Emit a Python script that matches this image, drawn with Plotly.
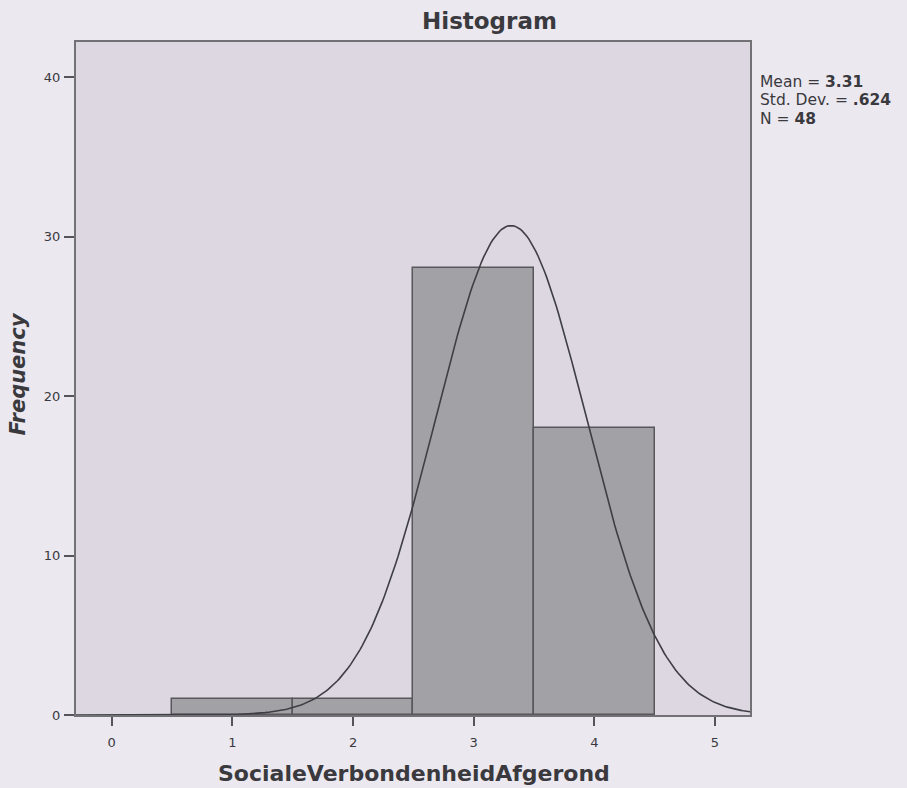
import numpy as np
import plotly.graph_objects as go

# Data
bin_centers = [1, 2, 3, 4]
frequencies = [1, 1, 28, 18]
mean_val = 3.31
std_dev = 0.624
n_obs = 48
bin_width = 1.0
x_ticks = [0, 1, 2, 3, 4, 5]
y_ticks = [0, 10, 20, 30, 40]
stats_lines = ["Mean = <b>3.31</b>", "Std. Dev. = <b>.624</b>", "N = <b>48</b>"]

# Fitted normal curve (as SPSS draws it) from the stated mean / sd / N
xs = np.linspace(-0.3, 5.29, 300)
ys = n_obs * bin_width / (std_dev * np.sqrt(2 * np.pi)) * np.exp(-0.5 * ((xs - mean_val) / std_dev) ** 2)

font_family = "DejaVu Sans, Verdana, sans-serif"
page_bg = "#ebe8ef"
text_col = "#3a393e"

fig = go.Figure()
fig.add_trace(go.Bar(
    x=bin_centers, y=frequencies, width=bin_width,
    marker=dict(color="#a2a1a5", line=dict(color="#58575c", width=1.5)),
    showlegend=False, hoverinfo="x+y",
))
fig.add_trace(go.Scatter(
    x=xs, y=ys, mode="lines",
    line=dict(color="#3f3e44", width=1.6),
    showlegend=False, hoverinfo="skip",
))

annotations = [
    dict(xref="paper", yref="paper", x=0.614, y=1.031, xanchor="center", yanchor="middle",
         text="<b>Histogram</b>", showarrow=False,
         font=dict(size=23, color=text_col, family=font_family)),
    dict(xref="paper", yref="paper", x=0.5015, y=-0.0862, xanchor="center", yanchor="middle",
         text="<b>SocialeVerbondenheidAfgerond</b>", showarrow=False,
         font=dict(size=22, color=text_col, family=font_family)),
    dict(xref="paper", yref="paper", x=-0.086, y=0.506, xanchor="center", yanchor="middle",
         text="<b><i>Frequency</i></b>", showarrow=False, textangle=-90,
         font=dict(size=21, color=text_col, family=font_family)),
]
for line_text, y_pos in zip(stats_lines, [0.9406, 0.9138, 0.8856]):
    annotations.append(dict(
        xref="paper", yref="paper", x=1.012, y=y_pos, xanchor="left", yanchor="middle",
        text=line_text, showarrow=False, align="left",
        font=dict(size=15.5, color=text_col, family=font_family),
    ))

fig.update_layout(
    width=907, height=788,
    margin=dict(l=76, r=157, t=42, b=73),
    paper_bgcolor=page_bg,
    plot_bgcolor="#dcd7e0",
    font=dict(family=font_family, color=text_col),
    bargap=0,
    xaxis=dict(
        range=[-0.296, 5.29], tickvals=x_ticks, ticktext=[str(v) for v in x_ticks],
        showgrid=False, zeroline=False, showline=True, mirror=True,
        linecolor="#727176", linewidth=2.2,
        ticks="outside", ticklen=9, tickwidth=1.5, tickcolor="#55545a",
        ticklabelstandoff=5,
        tickfont=dict(size=13, color=text_col),
    ),
    yaxis=dict(
        range=[0, 42.2], tickvals=y_ticks, ticktext=[str(v) for v in y_ticks],
        showgrid=False, zeroline=False, showline=True, mirror=True,
        linecolor="#727176", linewidth=2.2,
        ticks="outside", ticklen=10, tickwidth=1.5, tickcolor="#55545a",
        ticklabelstandoff=1,
        tickfont=dict(size=13, color=text_col),
    ),
    annotations=annotations,
)

fig.write_html(
    "out.html",
    config={"displayModeBar": False},
    post_script="document.body.style.margin='0';document.body.style.overflow='hidden';"
                "document.body.style.background='" + page_bg + "';",
)
